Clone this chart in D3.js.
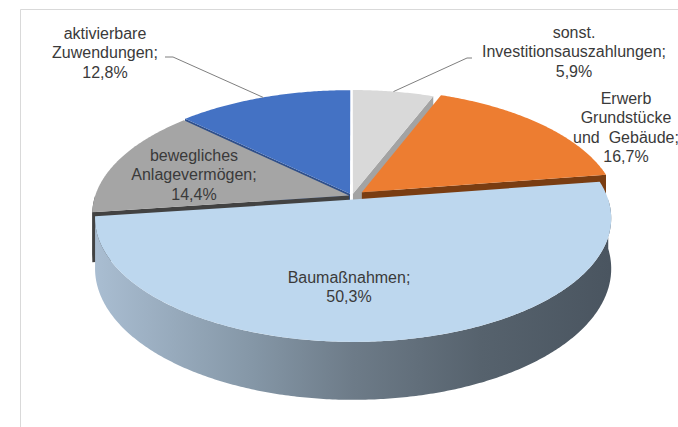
<!DOCTYPE html>
<html>
<head>
<meta charset="utf-8">
<script src="https://cdn.jsdelivr.net/npm/d3@7"></script>
<style>
  body { margin: 0; background: #fff; }
  svg { display: block; }
</style>
</head>
<body>
<svg id="chart" width="678" height="427"></svg>
<script>
// data
const categories = ["sonst. Investitionsauszahlungen", "Erwerb Grundstücke und Gebäude", "Baumaßnahmen", "bewegliches Anlagevermögen", "aktivierbare Zuwendungen"];
const values = [5.9, 16.7, 50.3, 14.4, 12.8];
const labelLines = [
  ["sonst.", "Investitionsauszahlungen;", "5,9%"],
  ["Erwerb", "Grundstücke", "und  Gebäude;", "16,7%"],
  ["Baumaßnahmen;", "50,3%"],
  ["bewegliches", "Anlagevermögen;", "14,4%"],
  ["aktivierbare", "Zuwendungen;", "12,8%"]
];

// styles / layout
const topColors = ["#d9d9d9", "#ed7d31", "#bdd7ee", "#a5a5a5", "#4472c4"];
const sideColors = ["#a3a3a3", "#7a3d12", "url(#bauSide)", "#424242", "#2f4f8a"];
const explode = [0.02, 0.05, 0.03, 0.012, 0.02];
const labelPos = [[574, 32], [626, 98], [349, 277], [194, 155], [105, 33]];
const leaderBend = [[[467, 58], [472, 58]], null, null, null, [[173, 57], [165, 57]]];

const cx = 352, cy = 196, rx = 254, ry = 119.8, k = 0.15, depth = 49;

function project(theta, r, h, ex, ez) {
  const X = r * Math.sin(theta) + ex;
  const Z = -r * Math.cos(theta) + ez;
  const p = 1 / (1 - k * Z);
  return [cx + rx * X * p, cy + (ry * Z + depth * h) * p];
}

function arcAngles(a0, a1) {
  const step = 0.01;
  return d3.range(a0, a1, step).concat([a1]);
}

const svg = d3.select("#chart");

const defs = svg.append("defs");
const grad = defs.append("linearGradient")
  .attr("id", "bauSide")
  .attr("gradientUnits", "userSpaceOnUse")
  .attr("x1", 97).attr("y1", 0).attr("x2", 610).attr("y2", 0);
[[0, "#a9bdd1"], [0.3, "#8597a7"], [0.5, "#6d7b88"], [0.75, "#56626d"], [1, "#4a5560"]]
  .forEach(([o, c]) => grad.append("stop").attr("offset", o).attr("stop-color", c));

// frame
svg.append("path")
  .attr("d", "M20.5,427V9.5H678")
  .attr("fill", "none")
  .attr("stroke", "#d9d9d9")
  .attr("stroke-width", 1);

const pie = d3.pie().sort(null).value(d => d);
const arcs = pie(values).map((d, i) => {
  const mid = (d.startAngle + d.endAngle) / 2;
  return {
    ...d, i, mid,
    ex: explode[i] * Math.sin(mid),
    ez: -explode[i] * Math.cos(mid)
  };
});

const line = d3.line();
const order = arcs.slice().sort((a, b) => (-Math.cos(a.mid)) - (-Math.cos(b.mid)));

const g = svg.append("g");

order.forEach(s => {
  const P = (t, r, h) => project(t, r, h, s.ex, s.ez);
  const a0 = s.startAngle, a1 = s.endAngle;
  const cutColor = sideColors[s.i] === "url(#bauSide)" ? "#6d7b88" : sideColors[s.i];

  // outer wall, front half only
  const w0 = Math.max(a0, Math.PI / 2), w1 = Math.min(a1, Math.PI * 3 / 2);
  if (w1 > w0) {
    const ts = arcAngles(w0, w1);
    const pts = ts.map(t => P(t, 1, 0)).concat(ts.slice().reverse().map(t => P(t, 1, 1)));
    g.append("path")
      .attr("d", line(pts) + "Z")
      .attr("fill", sideColors[s.i]);
  }

  // cut faces facing the viewer
  if (Math.sin(a0) < -0.001) {
    g.append("path")
      .attr("d", line([P(a0, 0, 0), P(a0, 1, 0), P(a0, 1, 1), P(a0, 0, 1)]) + "Z")
      .attr("fill", cutColor);
  }
  if (Math.sin(a1) > 0.001) {
    g.append("path")
      .attr("d", line([P(a1, 0, 0), P(a1, 1, 0), P(a1, 1, 1), P(a1, 0, 1)]) + "Z")
      .attr("fill", cutColor);
  }

  // top face
  const top = [P(0, 0, 0)].concat(arcAngles(a0, a1).map(t => P(t, 1, 0)));
  g.append("path")
    .attr("d", line(top) + "Z")
    .attr("fill", topColors[s.i]);
});

// leader lines
arcs.forEach(s => {
  if (!leaderBend[s.i]) return;
  const start = project(s.mid, 1, 0, s.ex, s.ez);
  svg.append("path")
    .attr("d", line([start].concat(leaderBend[s.i])))
    .attr("fill", "none")
    .attr("stroke", "#7f7f7f")
    .attr("stroke-width", 1);
});

// labels
arcs.forEach(s => {
  const [lx, ly] = labelPos[s.i];
  const t = svg.append("text")
    .attr("text-anchor", "middle")
    .style("font-family", "'Liberation Sans', Arial, sans-serif")
    .style("font-size", "16px")
    .attr("fill", "#3a3a3a");
  labelLines[s.i].forEach((txt, j) => {
    t.append("tspan")
      .attr("x", lx)
      .attr("y", ly + j * 19.5)
      .attr("dy", "0.35em")
      .style("white-space", "pre")
      .text(txt);
  });
});
</script>
</body>
</html>
